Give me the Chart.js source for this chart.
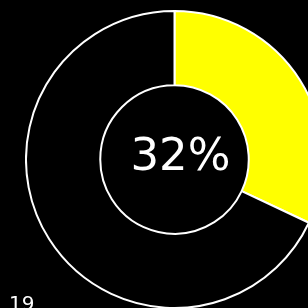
<!DOCTYPE html>
<html lang="en">
<head>
  <meta charset="UTF-8" />
  <title>Progress</title>
  <script src="https://cdn.jsdelivr.net/npm/chart.js"></script>
  <style>
    html, body { margin: 0; padding: 0; background: #000; width: 308px; height: 308px; overflow: hidden; }
    #wrap { position: absolute; left: 25px; top: 10px; width: 299px; height: 299px; }
    #note { position: absolute; left: 9px; top: 291px; color: #fff; font-family: "DejaVu Sans", sans-serif; font-size: 20px; line-height: 24px; }
  </style>
</head>
<body>
  <div id="wrap"><canvas id="progressChart" width="299" height="299"></canvas></div>
  <div id="note">19</div>

  <script>
    const labels = ['Done', 'Remaining'];
    const values = [32, 68];
    const colors = ['#ffff00', '#000000'];
    const centerLabel = '32%';

    const centerText = {
      id: 'centerText',
      afterDraw(chart) {
        const arc = chart.getDatasetMeta(0).data[0];
        const ctx = chart.ctx;
        ctx.save();
        ctx.fillStyle = '#ffffff';
        ctx.font = '45px "DejaVu Sans", sans-serif';
        ctx.textAlign = 'center';
        ctx.textBaseline = 'alphabetic';
        ctx.fillText(centerLabel, arc.x + 6, arc.y + 10);
        ctx.restore();
      }
    };

    new Chart(document.getElementById('progressChart').getContext('2d'), {
      type: 'doughnut',
      data: {
        labels: labels,
        datasets: [{
          data: values,
          backgroundColor: colors,
          borderColor: '#ffffff',
          borderWidth: 2
        }]
      },
      options: {
        responsive: false,
        animation: false,
        cutout: '50%',
        layout: { padding: 0 },
        plugins: {
          legend: { display: false },
          tooltip: { enabled: false }
        }
      },
      plugins: [centerText]
    });
  </script>
</body>
</html>
